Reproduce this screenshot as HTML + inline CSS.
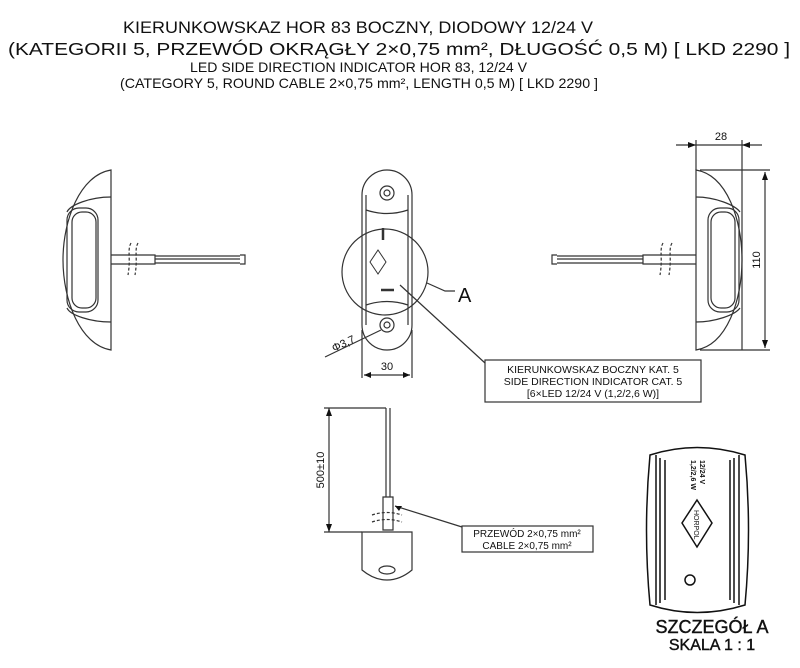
<!DOCTYPE html>
<html><head><meta charset="utf-8"><style>
html,body{margin:0;padding:0;background:#fff;}
svg{display:block;font-family:"Liberation Sans",sans-serif;}
</style></head><body>
<svg width="800" height="668" viewBox="0 0 800 668" xmlns="http://www.w3.org/2000/svg">
<g fill="#111" text-anchor="start">
<text x="123" y="33" font-size="17" textLength="470" lengthAdjust="spacingAndGlyphs">KIERUNKOWSKAZ HOR 83 BOCZNY, DIODOWY 12/24 V</text>
<text x="8" y="55" font-size="17.5" textLength="782" lengthAdjust="spacingAndGlyphs">(KATEGORII 5, PRZEWÓD OKRĄGŁY 2×0,75 mm², DŁUGOŚĆ 0,5 M) [ LKD 2290 ]</text>
<text x="190" y="72" font-size="14" textLength="337" lengthAdjust="spacingAndGlyphs">LED SIDE DIRECTION INDICATOR HOR 83, 12/24 V</text>
<text x="120" y="88" font-size="14" textLength="478" lengthAdjust="spacingAndGlyphs">(CATEGORY 5, ROUND CABLE 2×0,75 mm², LENGTH 0,5 M)  [ LKD 2290 ]</text>
</g>
<g fill="none" stroke="#333" stroke-width="1.2">
<path d="M111,170 L111,350 C80,345 63,300 63,260 C63,220 80,175 111,170Z"/>
<path d="M111,197 C90,197 70,205 67,212 M111,322 C90,322 70,315 67,308"/>
<rect x="67" y="208" width="31" height="104" rx="12"/>
<rect x="72" y="212" width="24" height="96" rx="10"/>
<path d="M111,255 H155 V264 H111 M155,256 H240 M155,259 H240 M155,263 H240 M240,255 H245 V264 H240"/>
<path d="M131,243 C127,250 131,258 128,275 M138,243 C134,250 138,258 135,275" stroke-dasharray="3,2"/>
<path d="M362,195 A25,25 0 0 1 412,195 V325 A25,25 0 0 1 362,325Z"/>
<path d="M366,195 V325 M408,195 V325"/>
<circle cx="387" cy="193" r="7"/><circle cx="387" cy="193" r="3"/>
<circle cx="387" cy="325" r="7"/><circle cx="387" cy="325" r="3"/>
<path d="M366,210 Q387,217 408,210 M366,305 Q387,298 408,305"/>
<circle cx="385" cy="272" r="43"/>
<path d="M427,283 L445,291 H455 M400,285 L485,363"/>
<path d="M378,250 L386,262 L378,274 L370,262Z" stroke-width="1"/>
<path d="M383,228 V240 M381,290 H394" stroke-width="2.5"/>
<path d="M362,330 V378 M412,330 V378 M364,375 H410"/>
<path d="M325,357 L381,330"/>
<rect x="485" y="360" width="216" height="42"/>
<path d="M696,170 L696,350 C727,345 742,300 742,260 C742,220 727,175 696,170Z"/>
<path d="M696,197 C715,197 735,205 740,212 M696,322 C715,322 735,315 740,308"/>
<rect x="708" y="208" width="31" height="104" rx="12"/>
<rect x="711" y="212" width="24" height="96" rx="10"/>
<path d="M696,255 H643 V264 H696 M643,256 H557 M643,259 H557 M643,263 H557 M557,255 H552 V264 H557"/>
<path d="M663,243 C659,250 663,258 660,275 M672,243 C668,250 672,258 669,275" stroke-dasharray="3,2"/>
<path d="M696,140 V170 M742,140 V350 M676,145 H762 M700,170 H770 M700,350 H770 M765,172 V348"/>
<path d="M386,408 V497 M390,408 V497 M383,497 H393 V530 H383Z"/>
<path d="M362,532 H412 V570 Q400,580 387,580 Q374,580 362,570Z"/>
<ellipse cx="387" cy="570" rx="8" ry="4"/>
<path d="M372,515 Q387,510 402,515 M372,522 Q387,517 402,522" stroke-dasharray="3,2"/>
<path d="M329,408 V532 M324,408 H386 M324,532 H362 M395,506 L462,527"/>
<rect x="462" y="526" width="131" height="26"/>
<g stroke="#111" stroke-width="1.5">
<path d="M650,455 Q697,440 745,455 Q752,530 745,605 Q697,620 650,605 Q643,530 650,455Z"/>
<path d="M656,455 V605 M660,458 V603 M739,455 V605 M734,458 V603 M665,460 V600 M730,460 V600"/>
<path d="M697,500 L712,523 L697,547 L682,523Z"/>
<circle cx="690" cy="580" r="5"/>
</g>
</g>
<g fill="#111">
<path d="M364,375 l7,-3 v6z M410,375 l-7,-3 v6z M696,145 l-8,-3 v6z M742,145 l8,-3 v6z M765,172 l-3,8 h6z M765,348 l-3,-8 h6z M329,408 l-3,8 h6z M329,532 l-3,-8 h6z M395,506 l7,0 l-3,5z"/>
<text x="387" y="370" font-size="11" text-anchor="middle">30</text>
<text x="721" y="140" font-size="11" text-anchor="middle">28</text>
<text transform="translate(760,260) rotate(-90)" font-size="11" text-anchor="middle">110</text>
<text transform="translate(324,470) rotate(-90)" font-size="11" text-anchor="middle">500±10</text>
<text transform="translate(334,352) rotate(-25)" font-size="11">Φ3,7</text>
<text x="458" y="302" font-size="20">A</text>
<text x="593" y="373" font-size="10.5" text-anchor="middle">KIERUNKOWSKAZ BOCZNY KAT. 5</text>
<text x="593" y="385" font-size="10.5" text-anchor="middle">SIDE DIRECTION INDICATOR CAT. 5</text>
<text x="593" y="397" font-size="10.5" text-anchor="middle">[6×LED 12/24 V (1,2/2,6 W)]</text>
<text x="527" y="537" font-size="10" text-anchor="middle">PRZEWÓD 2×0,75 mm²</text>
<text x="527" y="549" font-size="10" text-anchor="middle">CABLE 2×0,75 mm²</text>
<text transform="translate(700,460) rotate(90)" font-size="7" font-weight="bold">12/24 V</text>
<text transform="translate(691,460) rotate(90)" font-size="7" font-weight="bold">1,2/2,6 W</text>
<text transform="translate(694,510) rotate(90)" font-size="7">HORPOL</text>
<text x="712" y="633" font-size="18" text-anchor="middle" stroke="#111" stroke-width="0.4">SZCZEGÓŁ A</text>
<text x="712" y="650" font-size="16" text-anchor="middle" stroke="#111" stroke-width="0.4">SKALA 1 : 1</text>
</g>
</svg>
</body></html>
